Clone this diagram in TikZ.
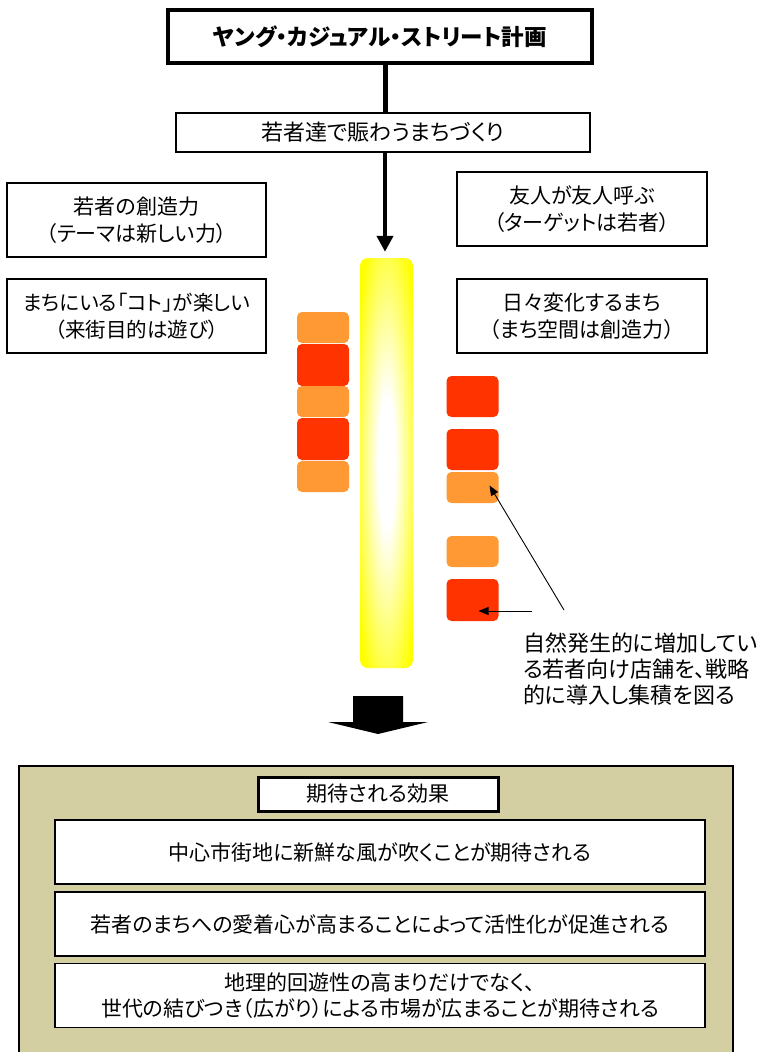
\documentclass[tikz,border=0pt]{standalone}
\usepackage{fontspec}
\newfontfamily\jp{Noto Sans CJK JP}[RawFeature=+palt]
\usetikzlibrary{arrows.meta,calc}
\definecolor{shopor}{HTML}{FF9933}
\definecolor{shopred}{HTML}{FF3300}
\definecolor{olive}{HTML}{D3CFA2}
\pgfdeclareradialshading{barshade}{\pgfpoint{0bp}{0bp}}{color(0bp)=(white); color(8bp)=(white); color(32bp)=(yellow); color(50bp)=(yellow)}
\tikzset{
  txt/.style={font=\jp\fontsize{21}{27}\selectfont, align=center},
  box/.style={draw, line width=1.2pt, fill=white, inner sep=0pt, txt},
  shop/.style={rounded corners=5pt, inner sep=0pt, minimum width=#1},
  orshop/.style={shop=52pt, fill=shopor},
  redshop/.style={shop=52pt, fill=shopred},
  thin arrow/.style={line width=0.9pt, -{Triangle[length=10pt,width=8pt]}},
}
\begin{document}
\begin{tikzpicture}[x=1pt,y=-1pt]
\clip (0,0) rectangle (762,1052);
\fill[white] (0,0) rectangle (762,1052);

% title and goal
\node[box, line width=3.5pt, minimum width=424pt, minimum height=53pt, font=\jp\bfseries\fontsize{22.5}{26}\selectfont] (title) at (380,36.5) {ヤング・カジュアル・ストリート計画};
\node[box, minimum width=414pt, minimum height=39pt, font=\jp\fontsize{22}{26}\selectfont] (goal) at (383,132.5) {若者達で賑わうまちづくり};

% side boxes
\node[box, minimum width=259pt, minimum height=74pt] (l1) at (136.5,220) {若者の創造力\\（テーマは新しい力）};
\node[box, minimum width=259pt, minimum height=74pt, font=\jp\fontsize{20.5}{27}\selectfont] (l2) at (136.5,316) {まちにいる「コト」が楽しい\\（来街目的は遊び）};
\node[box, minimum width=250pt, minimum height=74pt] (r1) at (582,209) {友人が友人呼ぶ\\（ターゲットは若者）};
\node[box, minimum width=250pt, minimum height=74pt] (r2) at (582,316) {日々変化するまち\\（まち空間は創造力）};

% street bar
\node[shading=barshade, rounded corners=8pt, minimum width=53pt, minimum height=410pt, inner sep=0pt] (bar) at (386.5,463) {};

% connectors
\draw[line width=5pt] (title.south -| 385,0) -- (goal.north -| 385,0);
\draw[line width=4pt, -{Triangle[length=16pt,width=16pt]}, shorten >=6pt] (goal.south -| 385,0) -- (bar.north -| 385,0);

% left shops
\node[orshop, minimum height=31pt] (sl1) at (323,327.5) {};
\node[redshop, minimum height=42pt] (sl2) at (323,365) {};
\node[orshop, minimum height=31pt] (sl3) at (323,401.5) {};
\node[redshop, minimum height=42pt] (sl4) at (323,439) {};
\node[orshop, minimum height=31pt] (sl5) at (323,476.5) {};

% right shops
\node[redshop, minimum height=41pt] (sr1) at (472.5,396.5) {};
\node[redshop, minimum height=41pt] (sr2) at (472.5,449.5) {};
\node[orshop, minimum height=31pt] (sr3) at (472.5,487.5) {};
\node[orshop, minimum height=31pt] (sr4) at (472.5,551.5) {};
\node[redshop, minimum height=42pt] (sr5) at (472.5,600) {};

% note
\node[txt, font=\jp\fontsize{22}{26}\selectfont, align=left, anchor=west, inner sep=0pt] (note) at (523,669) {自然発生的に増加してい\\る若者向け店舗を、戦略\\的に導入し集積を図る};
\coordinate (a1) at (564,610);
\coordinate (a2) at (532,611);
\draw[thin arrow] (a1) -- ($(sr3.center)+(17,-2)$);
\draw[thin arrow] (a2) -- ($(sr5.center)+(6,11)$);

% block arrow
\fill (353,696) -- (403,696) -- (403,722) -- (428,722) -- (378,734) -- (328,722) -- (353,722) -- cycle;

% effects
\draw[line width=2pt, fill=olive] (19,766) rectangle (733,1075);
\node[box, line width=3pt, minimum width=240pt, minimum height=34pt] (eff) at (378,794) {期待される効果};
\node[box, minimum width=650pt, minimum height=64pt] (e1) at (380,852) {中心市街地に新鮮な風が吹くことが期待される};
\node[box, minimum width=650pt, minimum height=64pt] (e2) at (380,924) {若者のまちへの愛着心が高まることによって活性化が促進される};
\node[box, minimum width=650pt, minimum height=64pt, font=\jp\fontsize{21}{26}\selectfont] (e3) at (380,995.5) {地理的回遊性の高まりだけでなく、\\世代の結びつき（広がり）による市場が広まることが期待される};
\end{tikzpicture}
\end{document}
